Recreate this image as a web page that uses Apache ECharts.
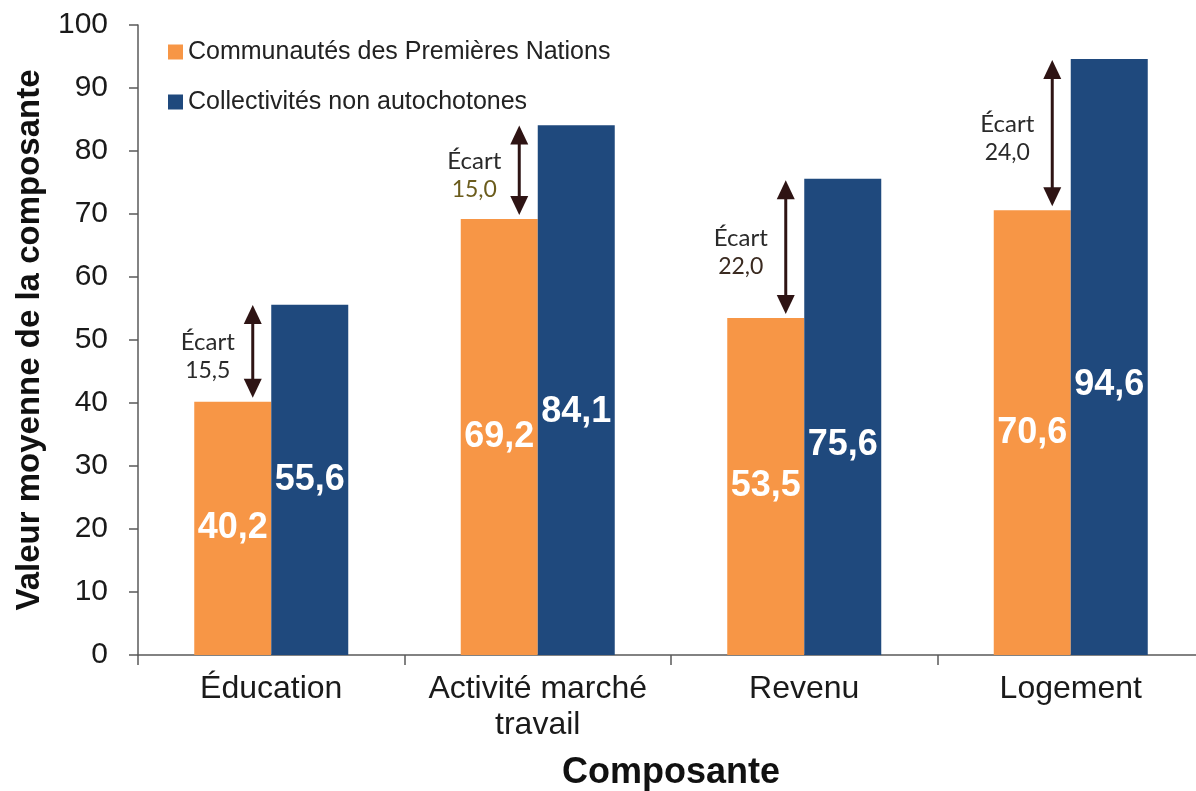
<!DOCTYPE html>
<html lang="fr">
<head>
<meta charset="utf-8">
<title>Valeur moyenne de la composante</title>
<script src="https://cdn.jsdelivr.net/npm/echarts@6/dist/echarts.min.js"></script>
<style>
  html, body { margin: 0; padding: 0; background: #ffffff; }
  #chart { width: 1196px; height: 791px; }
</style>
</head>
<body>
<div id="chart"></div>
<script>
// Composantes et valeurs moyennes
const categories = ['Éducation', 'Activité marché\ntravail', 'Revenu', 'Logement'];
const premieresNations = [40.2, 69.2, 53.5, 70.6];
const nonAutochtones = [55.6, 84.1, 75.6, 94.6];
const ecarts = [15.5, 15.0, 22.0, 24.0];
const seriesNames = ['Communautés des Premières Nations', 'Collectivités non autochotones'];

// Style settings
const ORANGE = '#F79646';
const BLUE = '#1F497D';
const ARROW = '#2e1414';
const BAR_W = 77;
const blueLabelDrop = [0, 22, 28, 28];
const ecartNumberColors = ['#2a2a2a', '#6b5c1c', '#3a2a20', '#2a2a2a'];

const fmt = v => v.toFixed(1).replace('.', ',');

const chart = echarts.init(document.getElementById('chart'), null, { renderer: 'canvas' });

const valueLabel = {
  show: true,
  position: 'inside',
  color: '#ffffff',
  fontFamily: 'Liberation Sans, Arial, sans-serif',
  fontWeight: 'bold',
  fontSize: 36,
  formatter: p => fmt(p.value)
};

// Double-headed arrow showing the gap between the two bars of a category
function renderEcart(params, api) {
  const idx = api.value(0);
  const low = api.value(1);
  const gap = api.value(2);
  const pLow = api.coord([idx, low]);
  const pHigh = api.coord([idx, low + gap]);
  const x = pLow[0] - BAR_W / 2 + 20;
  const yTop = pHigh[1] + 1;
  const yBot = pLow[1] - 4;
  const headH = 19, headW = 9;
  const mid = (yTop + yBot) / 2 + 4;
  return {
    type: 'group',
    children: [
      { type: 'line', shape: { x1: x, y1: yTop + headH - 2, x2: x, y2: yBot - headH + 2 },
        style: { stroke: ARROW, lineWidth: 3 } },
      { type: 'polygon', shape: { points: [[x, yTop], [x - headW, yTop + headH], [x + headW, yTop + headH]] },
        style: { fill: ARROW } },
      { type: 'polygon', shape: { points: [[x, yBot], [x - headW, yBot - headH], [x + headW, yBot - headH]] },
        style: { fill: ARROW } },
      { type: 'text', style: { text: 'Écart', x: x - 45, y: mid - 13, align: 'center', verticalAlign: 'middle',
        fontFamily: 'Lato, Open Sans, sans-serif', fontSize: 24, fill: '#2a2a2a' } },
      { type: 'text', style: { text: fmt(gap), x: x - 45, y: mid + 15, align: 'center', verticalAlign: 'middle',
        fontFamily: 'Lato, Open Sans, sans-serif', fontSize: 23, fill: ecartNumberColors[idx] } }
    ]
  };
}

const option = {
  backgroundColor: '#ffffff',
  animation: false,
  grid: { left: 138, top: 25, width: 1066, height: 630, containLabel: false, outerBoundsMode: 'none' },
  legend: {
    orient: 'vertical',
    left: 163,
    top: 33,
    itemWidth: 15,
    itemHeight: 15,
    itemGap: 22,
    icon: 'rect',
    textStyle: { fontFamily: 'Liberation Sans, Arial, sans-serif', fontSize: 25, color: '#222222', lineHeight: 28 },
    data: seriesNames
  },
  xAxis: {
    type: 'category',
    data: categories,
    name: 'Composante',
    nameLocation: 'middle',
    nameGap: 100,
    nameTextStyle: { fontFamily: 'Liberation Sans, Arial, sans-serif', fontWeight: 'bold', fontSize: 36, color: '#111111' },
    axisLine: { lineStyle: { color: '#5a5a5a', width: 1.5 } },
    axisTick: { show: true, length: 10, lineStyle: { color: '#5a5a5a', width: 1.5 } },
    axisLabel: { interval: 0, margin: 16, fontFamily: 'Liberation Sans, Arial, sans-serif', fontSize: 32,
      color: '#1a1a1a', lineHeight: 36 }
  },
  yAxis: {
    type: 'value',
    min: 0,
    max: 100,
    interval: 10,
    name: 'Valeur moyenne de la composante',
    nameLocation: 'middle',
    nameGap: 92,
    nameTextStyle: { fontFamily: 'Liberation Sans, Arial, sans-serif', fontWeight: 'bold', fontSize: 33, color: '#111111' },
    axisLine: { show: true, lineStyle: { color: '#5a5a5a', width: 1.5 } },
    axisTick: { show: true, length: 9, lineStyle: { color: '#5a5a5a', width: 1.5 } },
    splitLine: { show: false },
    axisLabel: { margin: 30, fontFamily: 'Liberation Sans, Arial, sans-serif', fontSize: 30, color: '#1a1a1a' }
  },
  series: [
    {
      name: seriesNames[0],
      type: 'bar',
      barWidth: BAR_W,
      barGap: '0%',
      itemStyle: { color: ORANGE },
      label: valueLabel,
      data: premieresNations
    },
    {
      name: seriesNames[1],
      type: 'bar',
      barWidth: BAR_W,
      barGap: '0%',
      itemStyle: { color: BLUE },
      label: valueLabel,
      data: nonAutochtones.map((v, i) => ({ value: v, label: { offset: [0, blueLabelDrop[i]] } }))
    },
    {
      type: 'custom',
      renderItem: renderEcart,
      silent: true,
      z: 5,
      encode: { x: 0, y: 1 },
      data: ecarts.map((g, i) => [i, premieresNations[i], g])
    }
  ]
};

chart.setOption(option);
</script>
</body>
</html>
